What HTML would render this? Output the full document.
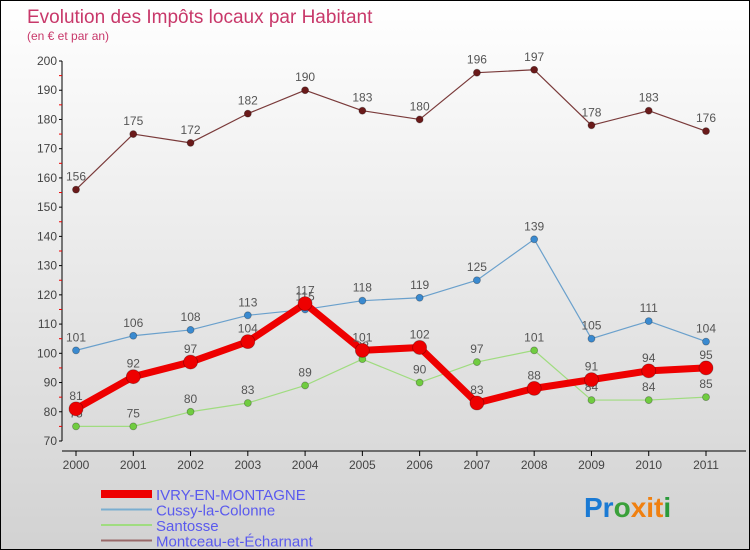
<!DOCTYPE html>
<html><head><meta charset="utf-8"><style>
body{margin:0}
#c{width:750px;height:550px;position:relative;overflow:hidden;box-sizing:border-box;border:1px solid #000;background:linear-gradient(#ffffff,#d2d2d2);font-family:"Liberation Sans",sans-serif}
svg{position:absolute;left:0;top:0}
</style></head><body>
<div id="c">
<svg id="s" width="750" height="550">
<text x="26" y="22" font-size="19" fill="#c8386a">Evolution des Impôts locaux par Habitant</text>
<text x="26" y="39" font-size="12" fill="#c8386a">(en € et par an)</text>
<g id="axes"></g><g id="series"></g><g id="legend"></g>
<text x="583" y="516" font-size="28" font-weight="bold"><tspan fill="#1a7ad4">Pr</tspan><tspan fill="#3aa03a">o</tspan><tspan fill="#f08010">x</tspan><tspan fill="#f08010">i</tspan><tspan fill="#f08010">t</tspan><tspan fill="#2a9a3a">i</tspan></text>
</svg></div>
<script>
const years=[2000,2001,2002,2003,2004,2005,2006,2007,2008,2009,2010,2011];
const ivry=[81,92,97,104,117,101,102,83,88,91,94,95];
const cussy=[101,106,108,113,115,118,119,125,139,105,111,104];
const santosse=[75,75,80,83,89,98,90,97,101,84,84,85];
const montceau=[156,175,172,182,190,183,180,196,197,178,183,176];
const yTicks=[70,80,90,100,110,120,130,140,150,160,170,180,190,200];
const NS="http://www.w3.org/2000/svg";
const X=i=>75+i*(630/11);
const Y=v=>440-(v-70)*380/130;
function mk(t,a,p){const e=document.createElementNS(NS,t);for(const k in a)e.setAttribute(k,a[k]);p.appendChild(e);return e;}
const ax=document.getElementById('axes');
let e=mk('line',{x1:61,y1:60,x2:61,y2:440,stroke:'#000'},ax);

e=mk('line',{x1:61,y1:450,x2:745,y2:450,stroke:'#000'},ax);

yTicks.forEach((v,i)=>{
 mk('line',{x1:58,y1:Y(v),x2:61,y2:Y(v),stroke:'#000'},ax);
 if(i<yTicks.length-1)mk('line',{x1:58,y1:Y(v+5),x2:61,y2:Y(v+5),stroke:'#e00'},ax);
 const t=mk('text',{x:56,y:Y(v)+4,'text-anchor':'end','font-size':12,fill:'#444'},ax);t.textContent=v;
 
});
years.forEach((y,i)=>{
 mk('line',{x1:X(i),y1:450,x2:X(i),y2:455,stroke:'#000'},ax);
 const t=mk('text',{x:X(i),y:468,'text-anchor':'middle','font-size':12,fill:'#444'},ax);t.textContent=y;
 
});
const sg=document.getElementById('series');
function series(name,data,col,dot,w,r){
 const g=mk('g',{},sg);
 
 const l=mk('polyline',{points:data.map((v,i)=>X(i)+','+Y(v)).join(' '),fill:'none',stroke:col,'stroke-width':w,'stroke-linejoin':'round'},g);
 
 data.forEach((v,i)=>{
  const c=mk('circle',{cx:X(i),cy:Y(v),r:r,fill:dot,stroke:'rgba(0,0,0,0.3)','stroke-width':0.8},g);
  
  const t=mk('text',{x:X(i),y:Y(v)-9,'text-anchor':'middle','font-size':12,fill:'#555'},g);t.textContent=v;
  
 });
}
series('montceau',montceau,'#7a3a3a','#6a1a1a',1.2,3.5);
series('cussy',cussy,'#6aa0cc','#3a8ad0',1.2,3.5);
series('santosse',santosse,'#a0dc80','#70cc40',1.2,3.5);
series('ivry',ivry,'#ee0000','#ee0000',7,7);
const lg=document.getElementById('legend');
const items=[['IVRY-EN-MONTAGNE','#ee0000',8],['Cussy-la-Colonne','#7aaed0',2],['Santosse','#a0dc80',2],['Montceau-et-Écharnant','#9a6a6a',2]];
items.forEach((it,i)=>{
 const y=493+i*15.5;
 const g=mk('g',{},lg);
 
 mk('line',{x1:100,y1:y,x2:151,y2:y,stroke:it[1],'stroke-width':it[2]},g);
 const t=mk('text',{x:155,y:y+6,'font-size':15,fill:'#5a5aee'},g);t.textContent=it[0];
});
</script>
</body></html>
